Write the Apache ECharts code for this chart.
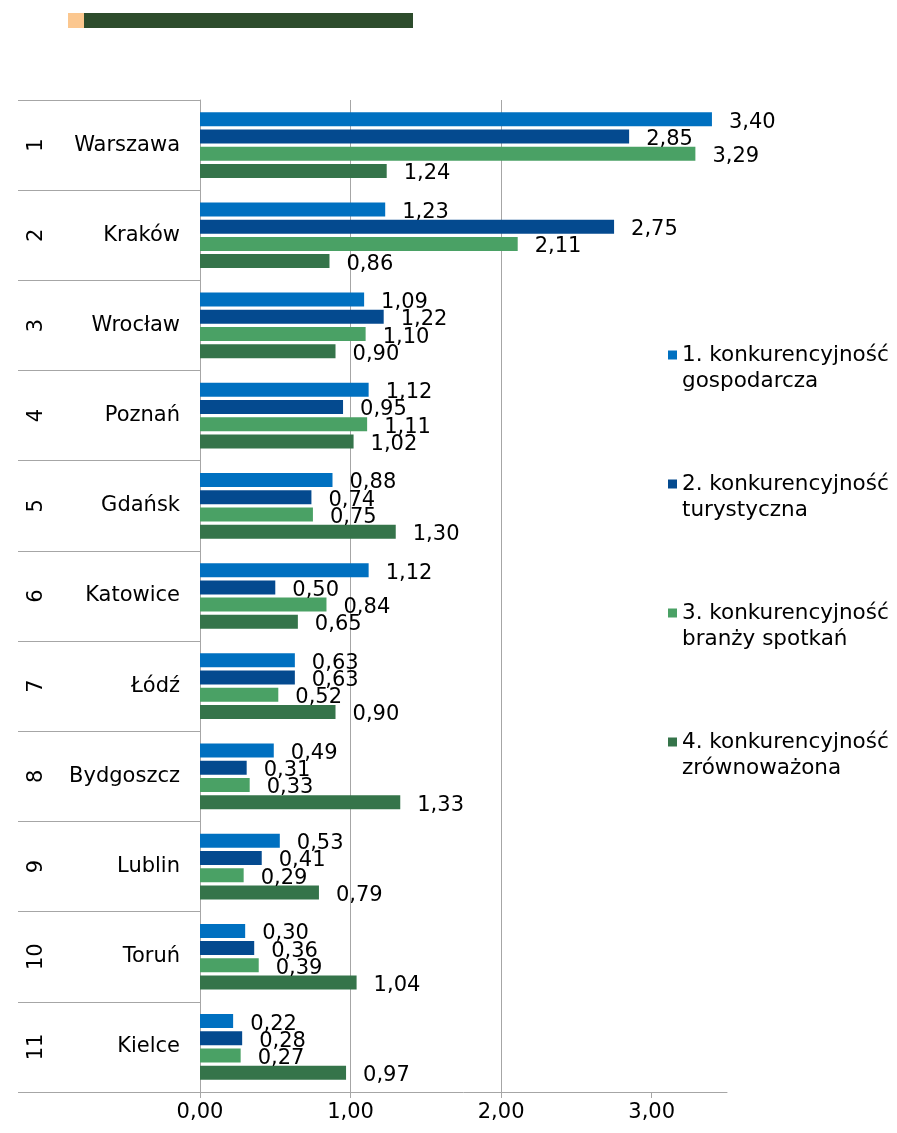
<!DOCTYPE html>
<html>
<head>
<meta charset="utf-8">
<script src="https://cdn.jsdelivr.net/npm/echarts@6/dist/echarts.min.js"></script>
<style>
  html, body { margin: 0; padding: 0; background: #fff; }
  #chart { width: 897px; height: 1133px; }
</style>
</head>
<body>
<div id="chart"></div>
<script>
// data
const ranks = ['1', '2', '3', '4', '5', '6', '7', '8', '9', '10', '11'];
const cities = ['Warszawa', 'Kraków', 'Wrocław', 'Poznań', 'Gdańsk', 'Katowice', 'Łódź', 'Bydgoszcz', 'Lublin', 'Toruń', 'Kielce'];
const seriesNames = [
  '1. konkurencyjność\ngospodarcza',
  '2. konkurencyjność\nturystyczna',
  '3. konkurencyjność\nbranży spotkań',
  '4. konkurencyjność\nzrównoważona'
];
const gospodarcza = [3.40, 1.23, 1.09, 1.12, 0.88, 1.12, 0.63, 0.49, 0.53, 0.30, 0.22];
const turystyczna = [2.85, 2.75, 1.22, 0.95, 0.74, 0.50, 0.63, 0.31, 0.41, 0.36, 0.28];
const spotkan = [3.29, 2.11, 1.10, 1.11, 0.75, 0.84, 0.52, 0.33, 0.29, 0.39, 0.27];
const zrownowazona = [1.24, 0.86, 0.90, 1.02, 1.30, 0.65, 0.90, 1.33, 0.79, 1.04, 0.97];
const xTicks = [0, 1, 2, 3];

const colors = ['#0070c0', '#044a8f', '#4aa165', '#35744a'];
const font = '"DejaVu Sans", Verdana, sans-serif';
const grey = '#a6a6a6';
const fmt = (v) => v.toFixed(2).replace('.', ',');

const chart = echarts.init(document.getElementById('chart'));

const makeSeries = (name, data) => ({
  name: name,
  type: 'bar',
  data: data,
  barWidth: 14,
  barGap: '23%',
  label: {
    show: true,
    position: 'right',
    distance: 17,
    offset: [0, 3],
    fontFamily: font,
    fontSize: 21,
    color: '#000',
    formatter: (p) => fmt(p.value),
  },
});

chart.setOption({
  animation: false,
  color: colors,
  textStyle: { fontFamily: font },
  grid: { left: 200, right: 170, top: 100, bottom: 41, containLabel: false },
  graphic: [
    { type: 'rect', shape: { x: 68, y: 13, width: 16, height: 15 }, style: { fill: '#fbc78f' } },
    { type: 'rect', shape: { x: 84, y: 13, width: 329, height: 15 }, style: { fill: '#2d4c2c' } },
  ],
  legend: {
    orient: 'vertical',
    left: 668,
    top: 316,
    padding: 0,
    itemWidth: 9,
    itemHeight: 9,
    itemGap: 51,
    icon: 'rect',
    data: seriesNames,
    // blank first line so the marker sits beside the first text line
    formatter: (name) => '\n' + name,
    textStyle: {
      fontFamily: font,
      fontSize: 21.5,
      lineHeight: 26,
      color: '#000',
    },
  },
  xAxis: {
    type: 'value',
    min: 0,
    max: 3.5,
    interval: 1,
    axisLine: { show: true, lineStyle: { color: grey } },
    axisTick: { show: true, length: 6, lineStyle: { color: grey }, customValues: xTicks },
    axisLabel: {
      customValues: xTicks,
      fontFamily: font,
      fontSize: 21,
      color: '#000',
      margin: 10,
      formatter: (v) => fmt(v),
    },
    splitLine: { show: true, showMaxLine: false, lineStyle: { color: grey } },
  },
  yAxis: [
    {
      type: 'category',
      data: cities,
      inverse: true,
      axisLine: { show: true, lineStyle: { color: grey } },
      axisTick: { show: true, length: 182, interval: 0, lineStyle: { color: grey } },
      axisLabel: { fontFamily: font, fontSize: 21, color: '#000', margin: 20, interval: 0 },
    },
    {
      type: 'category',
      data: ranks,
      inverse: true,
      position: 'left',
      axisLine: { show: false },
      axisTick: { show: false },
      axisLabel: { fontFamily: font, fontSize: 21, color: '#000', rotate: 90, margin: 153, interval: 0 },
    },
  ],
  series: [
    makeSeries(seriesNames[0], gospodarcza),
    makeSeries(seriesNames[1], turystyczna),
    makeSeries(seriesNames[2], spotkan),
    makeSeries(seriesNames[3], zrownowazona),
  ],
});
</script>
</body>
</html>
